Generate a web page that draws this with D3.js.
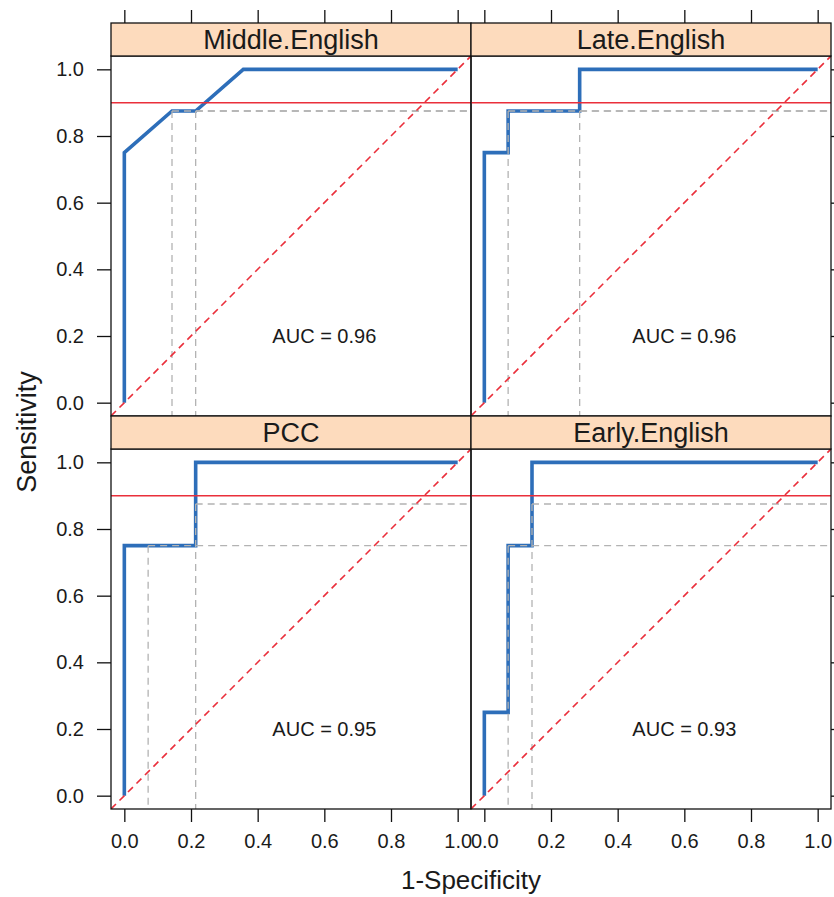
<!DOCTYPE html>
<html>
<head>
<meta charset="utf-8">
<title>ROC panels</title>
<script src="https://cdn.jsdelivr.net/npm/d3@7"></script>
<style>
body{ margin:0; background:#fff; }
svg text{ font-family:"Liberation Sans", Arial, sans-serif; fill:#1a1a1a; }
</style>
</head>
<body>
<svg id="chart" width="834" height="897"></svg>
<script>
// panel names, in lattice order (row 1 top)
var panelNames = ["Middle.English", "Late.English", "PCC", "Early.English"];
var aucLabels = ["AUC = 0.96", "AUC = 0.96", "AUC = 0.95", "AUC = 0.93"];

// roc curves: 1-specificity / sensitivity
var rocFpr = [
    [0, 0, 0.143, 0.214, 0.357, 1],
    [0, 0, 0.0714, 0.0714, 0.286, 0.286, 1],
    [0, 0, 0.214, 0.214, 1],
    [0, 0, 0.0714, 0.0714, 0.143, 0.143, 1]
];
var rocTpr = [
    [0, 0.75, 0.875, 0.875, 1, 1],
    [0, 0.75, 0.75, 0.875, 0.875, 1, 1],
    [0, 0.75, 0.75, 1, 1],
    [0, 0.25, 0.25, 0.75, 0.75, 1, 1]
];

// grey cutoff guides
var cutFpr = [
    [0.143, 0.214],
    [0.0714, 0.286],
    [0.0714, 0.214],
    [0.0714, 0.143]
];
var cutTpr = [
    [0.875, 0.875],
    [0.875, 0.875],
    [0.75, 0.875],
    [0.75, 0.875]
];

var refLine = 0.9;
var tickVals = [0, 0.2, 0.4, 0.6, 0.8, 1.0];
var tickLabels = ["0.0", "0.2", "0.4", "0.6", "0.8", "1.0"];

var svg = d3.select("#chart");

var colLeft = [111, 471], colRight = [471, 831];
var rowTop = [56, 449], rowBottom = [416, 809];
var stripH = 33;

var blue = "#2d6eb9", red = "#ea2f3b", grey = "#b3b3b3";

function drawPanel(i){
    var col = i % 2, row = Math.floor(i / 2);
    var x = d3.scaleLinear().domain([-0.04, 1.04]).range([colLeft[col], colRight[col]]);
    var y = d3.scaleLinear().domain([-0.04, 1.04]).range([rowBottom[row], rowTop[row]]);

    var g = svg.append("g");
    var clipId = "clip" + i;
    svg.append("clipPath").attr("id", clipId)
        .append("rect")
        .attr("x", colLeft[col]).attr("y", rowTop[row])
        .attr("width", colRight[col] - colLeft[col])
        .attr("height", rowBottom[row] - rowTop[row]);

    var inner = g.append("g").attr("clip-path", "url(#" + clipId + ")");

    // roc curve
    var pts = rocFpr[i].map(function(d, k){ return [d, rocTpr[i][k]]; });
    inner.append("path")
        .datum(pts)
        .attr("d", d3.line().x(function(d){ return x(d[0]); }).y(function(d){ return y(d[1]); }))
        .attr("fill", "none")
        .attr("stroke", blue)
        .attr("stroke-width", 3.6)
        .attr("stroke-linejoin", "miter");

    // cutoff guides
    for (var k = 0; k < cutFpr[i].length; k++) {
        var cx = cutFpr[i][k], cy = cutTpr[i][k];
        inner.append("line")
            .attr("x1", x(cx)).attr("x2", x(1.04))
            .attr("y1", y(cy)).attr("y2", y(cy))
            .attr("stroke", grey).attr("stroke-width", 1.3)
            .attr("stroke-dasharray", "7,5");
        inner.append("line")
            .attr("x1", x(cx)).attr("x2", x(cx))
            .attr("y1", y(cy)).attr("y2", y(-0.04))
            .attr("stroke", grey).attr("stroke-width", 1.3)
            .attr("stroke-dasharray", "7,5");
    }

    // diagonal
    inner.append("line")
        .attr("x1", x(-0.04)).attr("y1", y(-0.04))
        .attr("x2", x(1.04)).attr("y2", y(1.04))
        .attr("stroke", red).attr("stroke-width", 1.6)
        .attr("stroke-dasharray", "7,5");

    // reference sensitivity
    inner.append("line")
        .attr("x1", x(-0.04)).attr("x2", x(1.04))
        .attr("y1", y(refLine)).attr("y2", y(refLine))
        .attr("stroke", red).attr("stroke-width", 1.5);

    g.append("text")
        .attr("x", x(0.6)).attr("y", y(0.2))
        .attr("dy", "0.35em")
        .attr("text-anchor", "middle")
        .style("font-size", "20px")
        .text(aucLabels[i]);

    // border
    g.append("rect")
        .attr("x", colLeft[col]).attr("y", rowTop[row])
        .attr("width", colRight[col] - colLeft[col])
        .attr("height", rowBottom[row] - rowTop[row])
        .attr("fill", "none").attr("stroke", "#111").attr("stroke-width", 1.3);

    // strip
    g.append("rect")
        .attr("x", colLeft[col]).attr("y", rowTop[row] - stripH)
        .attr("width", colRight[col] - colLeft[col])
        .attr("height", stripH)
        .attr("fill", "#fddbbd").attr("stroke", "#111").attr("stroke-width", 1.3);
    g.append("text")
        .attr("x", (colLeft[col] + colRight[col]) / 2)
        .attr("y", rowTop[row] - stripH / 2)
        .attr("dy", "0.36em")
        .attr("text-anchor", "middle")
        .style("font-size", "27px")
        .text(panelNames[i]);

    // axes
    var fmt = function(d){ return tickLabels[tickVals.indexOf(d)]; };
    if (col == 0) {
        var ax = g.append("g").attr("transform", "translate(" + colLeft[col] + ",0)")
            .call(d3.axisLeft(y).tickValues(tickVals).tickFormat(fmt).tickSize(14).tickPadding(13));
        styleAxis(ax);
    } else {
        var ax = g.append("g").attr("transform", "translate(" + colRight[col] + ",0)")
            .call(d3.axisRight(y).tickValues(tickVals).tickFormat("").tickSize(14));
        styleAxis(ax);
    }
    if (row == 0) {
        var ax = g.append("g").attr("transform", "translate(0," + (rowTop[row] - stripH) + ")")
            .call(d3.axisTop(x).tickValues(tickVals).tickFormat("").tickSize(13));
        styleAxis(ax);
    } else {
        var ax = g.append("g").attr("transform", "translate(0," + rowBottom[row] + ")")
            .call(d3.axisBottom(x).tickValues(tickVals).tickFormat(fmt).tickSize(13).tickPadding(12));
        styleAxis(ax);
    }
}

function styleAxis(ax){
    ax.select(".domain").remove();
    ax.selectAll(".tick line").attr("stroke", "#111").attr("stroke-width", 1.3);
    ax.selectAll(".tick text")
        .style("font-family", "'Liberation Sans', Arial, sans-serif")
        .style("font-size", "20px")
        .attr("fill", "#1a1a1a");
}

for (var i = 0; i < panelNames.length; i++) {
    drawPanel(i);
}

svg.append("text")
    .attr("x", 471).attr("y", 880)
    .attr("dy", "0.35em")
    .attr("text-anchor", "middle")
    .style("font-size", "26px")
    .text("1-Specificity");

svg.append("text")
    .attr("transform", "translate(27,432) rotate(-90)")
    .attr("dy", "0.35em")
    .attr("text-anchor", "middle")
    .style("font-size", "27px")
    .text("Sensitivity");
</script>
</body>
</html>
